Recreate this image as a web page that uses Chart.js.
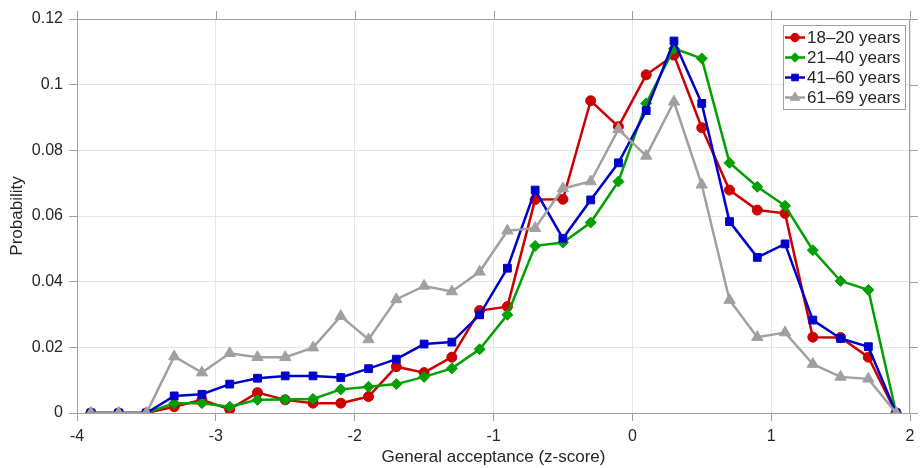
<!DOCTYPE html>
<html><head><meta charset="utf-8">
<script src="https://cdn.jsdelivr.net/npm/chart.js@4/dist/chart.umd.min.js"></script>
<style>html,body{margin:0;padding:0;background:#fff}#wrap{width:921px;height:468px}</style>
</head><body><div id="wrap"><canvas id="c" width="921" height="468"></canvas></div>
<script>
// ---- data ----
const zScores = [-3.9,-3.7,-3.5,-3.3,-3.1,-2.9,-2.7,-2.5,-2.3,-2.1,-1.9,-1.7,-1.5,-1.3,-1.1,-0.9,-0.7,-0.5,-0.3,-0.1,0.1,0.3,0.5,0.7,0.9,1.1,1.3,1.5,1.7,1.9];
const age18to20 = [0,0,0,0.0019,0.004,0.0011,0.0062,0.004,0.003,0.003,0.005,0.0141,0.0123,0.017,0.0312,0.0324,0.065,0.0651,0.0951,0.0872,0.103,0.109,0.0869,0.0679,0.0618,0.0608,0.0231,0.023,0.017,0];
const age21to40 = [0,0,0,0.003,0.003,0.0019,0.004,0.0041,0.0043,0.0072,0.008,0.0088,0.011,0.0136,0.0194,0.0299,0.0509,0.0519,0.058,0.0705,0.0943,0.111,0.108,0.0762,0.0689,0.0631,0.0496,0.0402,0.0375,0];
const age41to60 = [0,0,0,0.0052,0.0057,0.0088,0.0106,0.0113,0.0113,0.0108,0.0135,0.0164,0.021,0.0216,0.0299,0.0441,0.0679,0.0532,0.0649,0.0762,0.0921,0.1133,0.0943,0.0583,0.0474,0.0515,0.0283,0.0227,0.0202,0];
const age61to69 = [0,0,0,0.0172,0.0123,0.0182,0.017,0.017,0.0199,0.0295,0.0224,0.0346,0.0387,0.037,0.043,0.0555,0.0563,0.0684,0.0705,0.0864,0.0783,0.0948,0.0695,0.0344,0.0231,0.0245,0.0149,0.011,0.0104,0];
const seriesNames = ['18\u201320 years','21\u201340 years','41\u201360 years','61\u201369 years'];
const xTickValues = [-4,-3,-2,-1,0,1,2];
const yTickLabels = ['0','0.02','0.04','0.06','0.08','0.1','0.12'];
const xTitle = 'General acceptance (z-score)';
const yTitle = 'Probability';

const colors = ['#cc0000','#00a000','#0000cc','#a0a0a0'];
const styles = ['circle','rectRot','rect','triangle'];
const radii = [5,5.5,5.5,6.5];
const AXIS = '#a0a0a0';
const TEXT = '#262626';

function mk(i, vals) {
  return {
    label: seriesNames[i],
    data: zScores.map((x, k) => ({x: x, y: vals[k]})),
    borderColor: colors[i], backgroundColor: colors[i],
    borderWidth: 2.5, pointStyle: styles[i], pointRadius: radii[i],
    pointBorderWidth: 1, pointBackgroundColor: colors[i], pointBorderColor: colors[i],
    tension: 0, order: 3 - i
  };
}

const framePlugin = {
  id: 'frame',
  beforeDatasetsDraw(chart) {
    const ctx = chart.ctx, a = chart.chartArea;
    const xs = chart.scales.x, ys = chart.scales.y;
    ctx.save();
    ctx.strokeStyle = AXIS; ctx.lineWidth = 1;
    ctx.beginPath();
    ctx.moveTo(a.left, a.top + 0.5); ctx.lineTo(a.right, a.top + 0.5);
    ctx.moveTo(a.right - 0.5, a.top); ctx.lineTo(a.right - 0.5, a.bottom);
    xTickValues.forEach(v => { const p = Math.round(xs.getPixelForValue(v)) + 0.5; ctx.moveTo(p, a.top); ctx.lineTo(p, a.top - 8); });
    ys.ticks.forEach(t => { const p = Math.round(ys.getPixelForValue(t.value)) + 0.5; ctx.moveTo(a.right, p); ctx.lineTo(a.right + 8, p); });
    ctx.stroke();
    ctx.restore();
  }
};

const legendPlugin = {
  id: 'customLegend',
  afterDraw(chart) {
    const ctx = chart.ctx, a = chart.chartArea;
    const bx = a.right - 127, by = a.top + 6, bw = 122, bh = 84;
    ctx.save();
    ctx.fillStyle = '#fff'; ctx.fillRect(bx, by, bw, bh);
    ctx.strokeStyle = AXIS; ctx.lineWidth = 1;
    ctx.strokeRect(bx + 0.5, by + 0.5, bw, bh);
    ctx.font = '17px "Liberation Sans", Arial, sans-serif';
    ctx.textBaseline = 'middle';
    chart.data.datasets.forEach((ds, i) => {
      const y = by + 12.5 + i * 20;
      ctx.strokeStyle = ds.borderColor; ctx.lineWidth = 2.5;
      ctx.beginPath(); ctx.moveTo(bx + 2, y); ctx.lineTo(bx + 22, y); ctx.stroke();
      ctx.fillStyle = ds.borderColor; ctx.strokeStyle = ds.borderColor; ctx.lineWidth = 1;
      Chart.helpers.drawPoint(ctx, {pointStyle: ds.pointStyle, rotation: 0, borderWidth: 1, radius: ds.pointRadius * 0.85}, bx + 12, y);
      ctx.fillStyle = TEXT;
      ctx.fillText(ds.label, bx + 24, y + 1);
    });
    ctx.restore();
  }
};

new Chart(document.getElementById('c'), {
  type: 'line',
  data: { datasets: [mk(0, age18to20), mk(1, age21to40), mk(2, age41to60), mk(3, age61to69)] },
  options: {
    responsive: false, animation: false, devicePixelRatio: 1,
    layout: { padding: { left: 0, right: 11, top: 19, bottom: 0 } },
    plugins: { legend: { display: false }, tooltip: { enabled: false } },
    scales: {
      x: {
        type: 'linear', min: -4, max: 2,
        afterBuildTicks(s) { s.ticks = xTickValues.map(v => ({value: v})); },
        afterFit(s) { s.height = 55; },
        grid: { color: '#e6e6e6', tickColor: AXIS, tickLength: 8, drawTicks: true },
        border: { color: AXIS, width: 1 },
        ticks: { color: TEXT, padding: 6, maxRotation: 0, font: { family: '"Liberation Sans", Arial, sans-serif', size: 16 },
                 callback: v => String(v) },
        title: { display: true, text: xTitle, color: TEXT, padding: { top: 0, bottom: 0 },
                 font: { family: '"Liberation Sans", Arial, sans-serif', size: 17 } }
      },
      y: {
        type: 'linear', min: 0, max: 0.12,
        afterBuildTicks(s) { s.ticks = yTickLabels.map((l, i) => ({value: i * 0.02})); },
        afterFit(s) { s.width = 77; },
        grid: { color: '#e6e6e6', tickColor: AXIS, tickLength: 8, drawTicks: true },
        border: { color: AXIS, width: 1 },
        ticks: { color: TEXT, padding: 6, font: { family: '"Liberation Sans", Arial, sans-serif', size: 16 },
                 callback: (v, i) => yTickLabels[i] },
        title: { display: true, text: yTitle, color: TEXT, padding: { top: 7, bottom: 0 },
                 font: { family: '"Liberation Sans", Arial, sans-serif', size: 17 } }
      }
    }
  },
  plugins: [framePlugin, legendPlugin]
});
</script></body></html>
